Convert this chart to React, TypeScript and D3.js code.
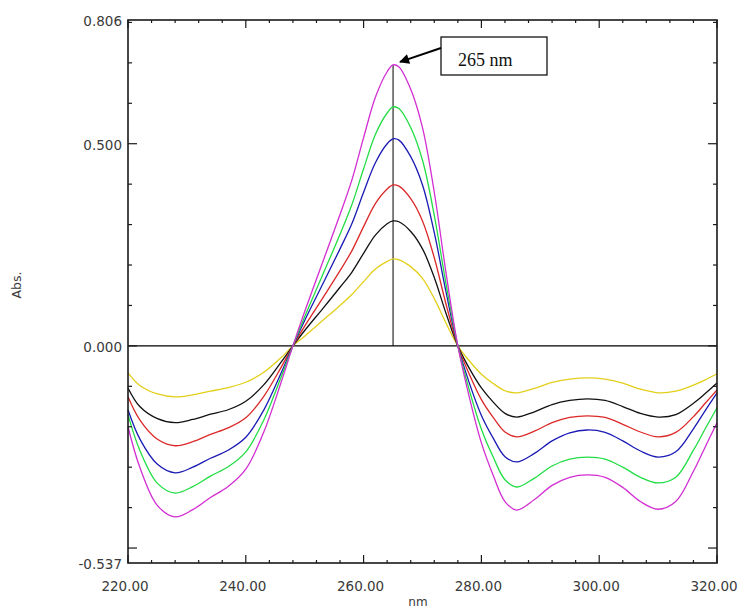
import React from "react";
import * as d3 from "d3";

const W = 744;
const H = 608;

// wavelength grid (nm)
const nm = [220, 222, 225, 228, 231, 234, 237, 240, 243, 246, 248, 250, 253, 256, 258, 260, 262, 264, 265, 266, 268, 270, 272, 274, 276, 278, 280, 282, 284, 286, 289, 292, 295, 298, 301, 304, 307, 310, 313, 316, 318, 320];

const magenta = [-0.200, -0.300, -0.395, -0.423, -0.405, -0.375, -0.348, -0.305, -0.215, -0.090, 0, 0.085, 0.205, 0.325, 0.410, 0.515, 0.615, 0.678, 0.695, 0.690, 0.635, 0.540, 0.380, 0.180, 0, -0.130, -0.240, -0.320, -0.385, -0.406, -0.380, -0.345, -0.325, -0.319, -0.325, -0.350, -0.385, -0.404, -0.385, -0.310, -0.250, -0.190];
const green = [-0.170, -0.258, -0.340, -0.364, -0.348, -0.322, -0.299, -0.262, -0.185, -0.077, 0, 0.072, 0.174, 0.276, 0.349, 0.438, 0.523, 0.576, 0.591, 0.587, 0.540, 0.459, 0.323, 0.153, 0, -0.112, -0.206, -0.275, -0.331, -0.349, -0.327, -0.297, -0.280, -0.275, -0.280, -0.300, -0.325, -0.339, -0.325, -0.258, -0.205, -0.153];
const blue = [-0.158, -0.230, -0.293, -0.314, -0.300, -0.278, -0.258, -0.226, -0.160, -0.067, 0, 0.063, 0.151, 0.240, 0.302, 0.380, 0.453, 0.500, 0.512, 0.509, 0.468, 0.398, 0.280, 0.133, 0, -0.094, -0.172, -0.228, -0.274, -0.287, -0.266, -0.235, -0.215, -0.208, -0.214, -0.235, -0.260, -0.275, -0.262, -0.205, -0.160, -0.116];
const red = [-0.126, -0.183, -0.231, -0.247, -0.237, -0.219, -0.203, -0.178, -0.126, -0.053, 0, 0.049, 0.117, 0.186, 0.235, 0.295, 0.352, 0.388, 0.398, 0.395, 0.364, 0.309, 0.218, 0.103, 0, -0.072, -0.133, -0.177, -0.213, -0.225, -0.211, -0.190, -0.177, -0.173, -0.177, -0.194, -0.213, -0.225, -0.214, -0.175, -0.142, -0.109];
const black = [-0.104, -0.150, -0.180, -0.190, -0.182, -0.169, -0.158, -0.137, -0.097, -0.040, 0, 0.038, 0.091, 0.145, 0.182, 0.229, 0.274, 0.302, 0.309, 0.307, 0.283, 0.240, 0.169, 0.080, 0, -0.057, -0.104, -0.139, -0.167, -0.176, -0.163, -0.145, -0.135, -0.131, -0.135, -0.150, -0.167, -0.176, -0.170, -0.142, -0.118, -0.092];
const yellow = [-0.067, -0.098, -0.119, -0.126, -0.121, -0.112, -0.103, -0.090, -0.066, -0.029, 0, 0.024, 0.062, 0.100, 0.127, 0.159, 0.190, 0.209, 0.215, 0.213, 0.196, 0.167, 0.117, 0.056, 0, -0.038, -0.070, -0.093, -0.111, -0.116, -0.105, -0.090, -0.082, -0.079, -0.082, -0.092, -0.107, -0.116, -0.112, -0.097, -0.084, -0.069];

const series = [
  { color: "#e3cf1a", values: yellow },
  { color: "#111111", values: black },
  { color: "#dc2828", values: red },
  { color: "#1a1ab4", values: blue },
  { color: "#22dd44", values: green },
  { color: "#d22ed2", values: magenta },
];

const xMajor = [220, 240, 260, 280, 300, 320];
const yLabels = ["0.806", "0.500", "0.000", "-0.537"];
const yMajor = [0.5, 0, -0.5];
const peakNm = 265;
const peakLabel = "265 nm";

export default function App() {
  const margin = { left: 128, top: 20, right: 27, bottom: 45 };
  const x = d3.scaleLinear().domain([220, 320]).range([margin.left, W - margin.right]);
  const y = d3.scaleLinear().domain([-0.537, 0.806]).range([H - margin.bottom, margin.top]);
  const [x0, x1] = x.range();
  const [y0, y1] = y.range();

  const line = d3.line<number>()
    .x((_, i) => x(nm[i]))
    .y(d => y(d))
    .curve(d3.curveCatmullRom.alpha(0.5));

  const xMinor = d3.range(220, 321, 4);
  const yMinor = y.ticks(13);
  const peakVal = d3.max(magenta) as number;

  const box = { x: 441, y: 37, w: 106, h: 38 };
  const tip = { x: x(peakNm) + 7, y: y(peakVal) - 3 };

  return (
    <svg width={W} height={H} style={{ position: "absolute", left: 0, top: 0, background: "#fff" }}>
      <defs>
        <marker id="ah" viewBox="0 0 10 10" refX="9" refY="5" markerWidth="14" markerHeight="10" markerUnits="userSpaceOnUse" orient="auto">
          <path d="M0,0 L10,5 L0,10 z" fill="#000" />
        </marker>
      </defs>

      {/* zero line and peak marker */}
      <line x1={x0} x2={x1} y1={y(0)} y2={y(0)} stroke="#000" strokeWidth={1.4} />
      <line x1={x(peakNm)} x2={x(peakNm)} y1={y(0)} y2={y(peakVal)} stroke="#000" strokeWidth={1} />

      {series.map((s, i) => (
        <path key={i} d={line(s.values) || ""} fill="none" stroke={s.color} strokeWidth={1.3} />
      ))}

      {/* frame */}
      <rect x={x0} y={y1} width={x1 - x0} height={y0 - y1} fill="none" stroke="#1a1a1a" strokeWidth={1.6} />

      {/* x ticks */}
      {xMinor.map(v => {
        const len = xMajor.includes(v) ? 8 : 3;
        return (
          <g key={"xt" + v} stroke="#1a1a1a" strokeWidth={1.2}>
            <line x1={x(v)} x2={x(v)} y1={y0} y2={y0 - len} />
            <line x1={x(v)} x2={x(v)} y1={y1} y2={y1 + len} />
          </g>
        );
      })}
      {/* y ticks */}
      {yMinor.map(v => {
        const len = yMajor.some(m => Math.abs(m - v) < 1e-6) ? 9 : 4;
        return (
          <g key={"yt" + v} stroke="#1a1a1a" strokeWidth={1.2}>
            <line x1={x0} x2={x0 + len} y1={y(v)} y2={y(v)} />
            <line x1={x1} x2={x1 - len} y1={y(v)} y2={y(v)} />
          </g>
        );
      })}

      {/* tick labels */}
      <g fontFamily="DejaVu Sans, sans-serif" fontSize={13.5} fill="#3a3a3a">
        {xMajor.map(v => (
          <text key={"xl" + v} x={x(v) - 3} y={591} textAnchor="middle">{d3.format(".2f")(v)}</text>
        ))}
        {yLabels.map(v => (
          <text key={"yl" + v} x={122} y={y(+v) + 1} textAnchor="end" dominantBaseline="central">{v}</text>
        ))}
      </g>

      {/* axis titles */}
      <text x={418} y={606} textAnchor="middle" fontFamily="DejaVu Sans, sans-serif" fontSize={12} fill="#3a3a3a">nm</text>
      <text transform="translate(21,285) rotate(-90)" textAnchor="middle" fontFamily="DejaVu Sans, sans-serif" fontSize={12.5} fill="#3a3a3a">Abs.</text>

      {/* annotation */}
      <rect x={box.x} y={box.y} width={box.w} height={box.h} fill="#fff" stroke="#000" strokeWidth={1.2} />
      <text x={box.x + 17} y={box.y + 29} fontFamily="Liberation Serif, serif" fontSize={18} fill="#111">{peakLabel}</text>
      <line x1={box.x} y1={box.y + 11} x2={tip.x} y2={tip.y} stroke="#000" strokeWidth={2} markerEnd="url(#ah)" />
    </svg>
  );
}
